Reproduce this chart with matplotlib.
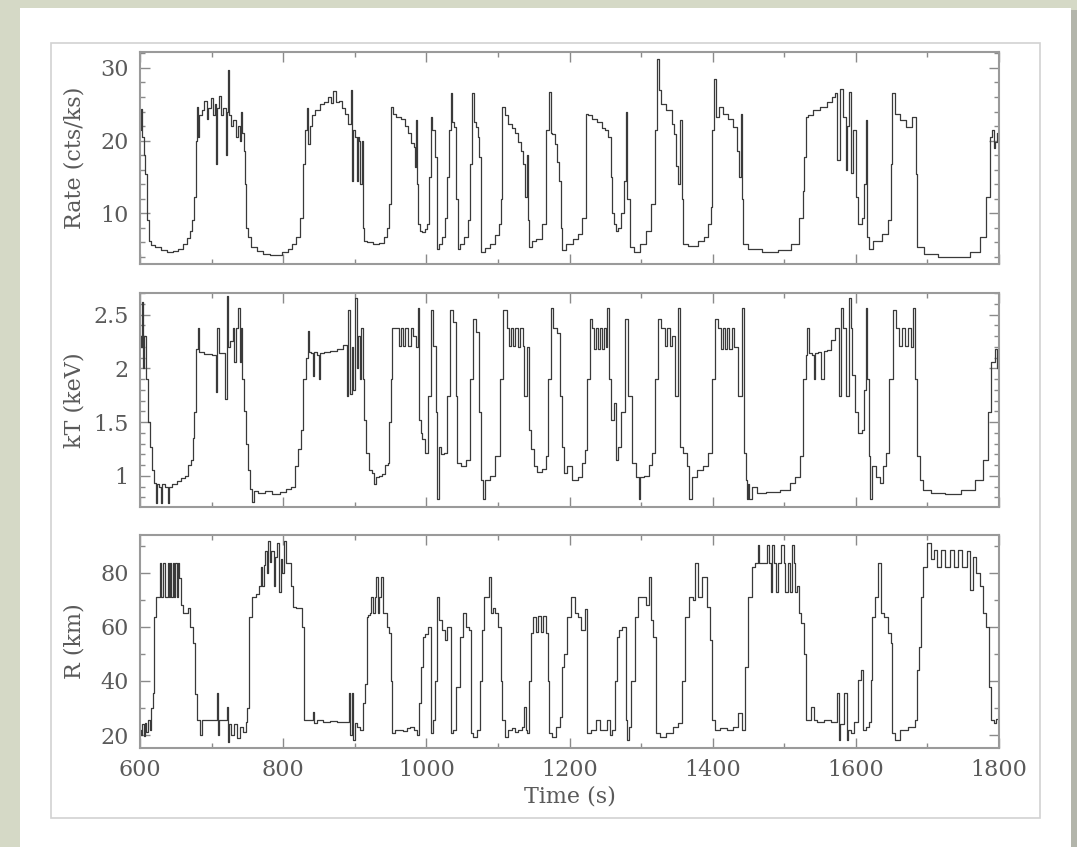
import matplotlib.pyplot as plt
from matplotlib.patches import Rectangle
from matplotlib.ticker import MultipleLocator, FuncFormatter

plt.rcParams['font.family'] = ['DejaVu Serif']

# count rate light curve
t_rate = [600, 601, 602, 604, 606, 608, 611, 614, 618, 625,
          634, 642, 650, 656, 663, 668, 671, 674, 677, 679,
          680, 682, 684, 688, 692, 694, 697, 700, 703, 706,
          707, 708, 712, 714, 718, 721, 722, 724, 726, 729,
          732, 735, 738, 740, 742, 744, 746, 747, 749, 752,
          758, 768, 777, 786, 795, 803, 810, 816, 821, 826,
          829, 832, 834, 836, 838, 842, 848, 855, 860, 865,
          868, 872, 876, 879, 884, 889, 893, 896, 897, 899,
          902, 903, 905, 907, 909, 911, 912, 914, 920, 930,
          937, 944, 947, 949, 951, 955, 960, 968, 973, 977,
          981, 984, 985, 986, 987, 990, 993, 996, 1000, 1003,
          1005, 1007, 1010, 1014, 1016, 1020, 1024, 1028, 1031, 1033,
          1035, 1038, 1040, 1043, 1045, 1050, 1056, 1060, 1063, 1065,
          1068, 1070, 1073, 1075, 1079, 1086, 1093, 1099, 1103, 1105,
          1107, 1112, 1117, 1121, 1126, 1131, 1134, 1137, 1140, 1142,
          1143, 1145, 1149, 1158, 1165, 1170, 1172, 1175, 1177, 1182,
          1184, 1187, 1189, 1191, 1200, 1210, 1215, 1221, 1224, 1228,
          1235, 1242, 1248, 1252, 1256, 1259, 1261, 1263, 1266, 1270,
          1274, 1277, 1280, 1282, 1287, 1294, 1303, 1312, 1317, 1321,
          1324, 1326, 1331, 1340, 1345, 1347, 1350, 1352, 1356, 1358,
          1359, 1373, 1385, 1391, 1396, 1398, 1401, 1403, 1405, 1412,
          1418, 1424, 1433, 1436, 1438, 1440, 1442, 1443, 1457, 1480,
          1503, 1517, 1524, 1527, 1529, 1531, 1536, 1545, 1555, 1564,
          1569, 1573, 1575, 1580, 1585, 1587, 1589, 1592, 1594, 1599,
          1601, 1606, 1610, 1613, 1615, 1617, 1620, 1629, 1643, 1647,
          1650, 1652, 1657, 1666, 1675, 1682, 1685, 1687, 1703, 1727,
          1750, 1768, 1780, 1785, 1789, 1792, 1794, 1796, 1798]
rate = [22.3, 21.5, 24.3, 20.5, 18.0, 15.4, 9.0, 6.2, 5.6, 5.3,
        4.9, 4.6, 4.8, 5.1, 5.8, 6.6, 7.6, 9.0, 12.2, 20.0,
        24.6, 20.5, 23.5, 24.2, 25.5, 23.0, 24.5, 25.8, 23.5, 25.0,
        16.8, 24.5, 26.2, 23.5, 24.5, 18.0, 24.0, 29.7, 23.5, 22.0,
        22.8, 20.5, 22.0, 20.0, 24.0, 21.0, 18.5, 14.0, 8.0, 6.7,
        5.3, 4.8, 4.4, 4.3, 4.3, 4.6, 5.1, 5.8, 6.7, 9.4,
        16.8, 21.4, 24.5, 19.5, 22.0, 23.5, 24.2, 25.0, 25.3, 26.0,
        25.2, 26.8, 25.3, 25.5, 24.5, 23.7, 22.3, 26.9, 14.5, 21.5,
        20.5, 14.5, 20.5, 20.0, 14.0, 20.0, 8.0, 6.2, 6.0, 5.7,
        5.9, 6.7, 8.0, 11.3, 24.6, 23.6, 23.3, 23.0, 22.0, 21.0,
        19.6, 19.1, 16.3, 22.8, 14.0, 8.5, 7.6, 7.4, 7.8, 8.5,
        15.0, 23.2, 21.5, 17.7, 5.1, 5.8, 6.7, 9.4, 15.0, 21.4,
        26.5, 22.5, 21.9, 12.0, 5.1, 5.8, 6.7, 9.0, 16.8, 26.5,
        22.5, 21.9, 20.5, 17.7, 4.6, 5.2, 5.8, 7.0, 8.5, 12.0,
        24.6, 23.5, 22.3, 21.8, 21.0, 19.8, 18.5, 16.8, 12.2, 18.0,
        9.0, 5.3, 6.2, 6.5, 8.5, 21.4, 26.7, 21.0, 20.9, 19.5,
        17.0, 14.5, 8.0, 4.9, 5.8, 6.5, 7.2, 9.4, 23.7, 23.5,
        23.0, 22.5, 21.8, 21.4, 20.5, 15.0, 10.0, 8.5, 7.6, 8.0,
        10.0, 14.5, 23.9, 12.0, 5.3, 4.6, 5.8, 7.6, 11.3, 21.4,
        31.3, 26.9, 25.0, 24.2, 22.3, 20.9, 16.5, 14.0, 22.8, 12.0,
        5.8, 5.5, 6.2, 6.7, 8.5, 10.8, 21.4, 28.5, 23.2, 24.6,
        23.7, 23.0, 21.9, 18.5, 15.0, 23.7, 12.0, 5.8, 5.1, 4.6,
        4.9, 5.8, 9.4, 13.0, 17.7, 23.2, 23.5, 24.2, 24.6, 25.3,
        26.0, 26.5, 17.3, 27.1, 23.2, 16.0, 22.0, 26.7, 15.5, 21.4,
        12.2, 8.5, 9.4, 14.0, 22.8, 6.7, 5.1, 6.2, 7.1, 9.0,
        16.8, 26.5, 23.7, 22.8, 21.9, 23.2, 15.4, 5.3, 4.4, 3.9,
        3.9, 4.6, 6.7, 12.2, 20.5, 21.4, 19.0, 19.8, 21.0]

# blackbody temperature
t_kt = [600, 602, 604, 605, 607, 609, 612, 615, 618, 621,
        623, 625, 628, 630, 632, 637, 640, 642, 648, 655,
        660, 665, 670, 672, 675, 677, 680, 682, 684, 695,
        705, 707, 709, 711, 718, 720, 722, 724, 728, 731,
        733, 735, 738, 740, 742, 744, 747, 749, 752, 756,
        758, 760, 770, 780, 790, 800, 808, 814, 819, 823,
        826, 830, 833, 835, 837, 840, 842, 844, 850, 851,
        853, 860, 870, 880, 888, 890, 892, 895, 897, 899,
        901, 904, 906, 908, 910, 912, 914, 918, 922, 926,
        929, 931, 936, 940, 945, 947, 949, 951, 953, 960,
        964, 966, 969, 972, 976, 980, 984, 987, 989, 991,
        993, 996, 1000, 1005, 1007, 1012, 1014, 1017, 1019, 1023,
        1026, 1031, 1035, 1040, 1042, 1045, 1052, 1059, 1063, 1068,
        1072, 1075, 1079, 1080, 1084, 1093, 1100, 1105, 1110, 1114,
        1117, 1119, 1122, 1126, 1130, 1133, 1136, 1138, 1142, 1145,
        1148, 1152, 1156, 1166, 1168, 1173, 1175, 1180, 1184, 1189,
        1191, 1194, 1200, 1208, 1215, 1219, 1224, 1226, 1231, 1233,
        1235, 1238, 1241, 1244, 1247, 1250, 1252, 1254, 1256, 1261,
        1263, 1266, 1270, 1275, 1280, 1284, 1291, 1296, 1297, 1299,
        1308, 1313, 1317, 1322, 1326, 1331, 1335, 1338, 1342, 1345,
        1350, 1354, 1356, 1361, 1366, 1368, 1373, 1382, 1391, 1396,
        1401, 1405, 1410, 1413, 1416, 1419, 1422, 1425, 1428, 1432,
        1438, 1443, 1445, 1447, 1448, 1450, 1452, 1457, 1466, 1484,
        1503, 1512, 1519, 1524, 1529, 1531, 1533, 1537, 1540, 1542,
        1545, 1549, 1554, 1556, 1564, 1568, 1575, 1578, 1580, 1584,
        1589, 1592, 1594, 1596, 1601, 1606, 1610, 1613, 1615, 1617,
        1619, 1621, 1624, 1631, 1636, 1640, 1645, 1649, 1654, 1659,
        1663, 1667, 1671, 1675, 1679, 1682, 1684, 1687, 1692, 1696,
        1713, 1736, 1759, 1773, 1782, 1787, 1792, 1796, 1798]
kt = [2.30, 2.20, 2.62, 2.00, 2.30, 1.90, 1.50, 1.27, 1.05, 0.93,
      0.75, 0.92, 0.90, 0.75, 0.92, 0.90, 0.75, 0.90, 0.92, 0.95,
      0.98, 1.00, 1.10, 1.15, 1.35, 1.59, 2.18, 2.37, 2.15, 2.13,
      2.12, 1.78, 2.37, 2.14, 2.14, 1.71, 2.67, 2.20, 2.25, 2.37,
      2.06, 2.37, 2.56, 2.06, 2.37, 1.90, 1.60, 1.30, 1.05, 0.88,
      0.76, 0.86, 0.84, 0.86, 0.83, 0.85, 0.88, 0.90, 1.09, 1.25,
      1.43, 1.90, 2.10, 2.35, 2.15, 2.14, 1.93, 2.15, 2.12, 1.90,
      2.14, 2.15, 2.16, 2.18, 2.22, 1.74, 2.54, 1.76, 2.20, 1.80,
      2.65, 2.00, 2.30, 1.90, 2.37, 1.90, 1.52, 1.21, 1.05, 1.03,
      0.92, 0.99, 1.00, 1.02, 1.10, 1.12, 1.50, 1.90, 2.37, 2.37,
      2.21, 2.37, 2.21, 2.37, 2.21, 2.37, 2.30, 2.20, 2.56, 1.52,
      1.40, 1.34, 1.21, 1.74, 2.54, 2.21, 1.59, 0.78, 1.27, 1.20,
      1.21, 1.74, 2.54, 2.43, 1.74, 1.12, 1.09, 1.15, 1.90, 2.46,
      2.34, 1.59, 0.96, 0.78, 0.96, 1.00, 1.18, 1.90, 2.54, 2.37,
      2.21, 2.37, 2.21, 2.37, 2.20, 2.37, 2.21, 1.74, 2.20, 1.43,
      1.25, 1.09, 1.04, 1.06, 1.18, 1.90, 2.56, 2.37, 2.33, 1.74,
      1.27, 1.03, 1.09, 0.96, 0.99, 1.12, 1.24, 1.90, 2.46, 2.37,
      2.18, 2.37, 2.18, 2.37, 2.18, 2.37, 2.20, 2.56, 1.90, 1.52,
      1.68, 1.15, 1.27, 1.59, 2.46, 1.74, 1.12, 0.99, 0.78, 0.99,
      1.00, 1.10, 1.21, 1.90, 2.46, 2.37, 2.21, 2.37, 2.21, 2.30,
      1.74, 2.56, 1.27, 1.21, 1.09, 0.78, 0.99, 1.05, 1.09, 1.21,
      1.90, 2.46, 2.37, 2.18, 2.37, 2.18, 2.37, 2.18, 2.37, 2.20,
      1.74, 2.56, 1.21, 0.96, 0.78, 0.92, 0.78, 0.90, 0.84, 0.85,
      0.87, 0.93, 0.99, 1.18, 1.90, 2.12, 2.37, 2.14, 2.12, 1.90,
      2.14, 2.15, 1.90, 2.16, 2.17, 2.26, 2.37, 1.74, 2.56, 2.37,
      1.74, 2.65, 2.37, 1.94, 1.59, 1.40, 1.43, 1.80, 2.56, 1.90,
      1.18, 0.78, 1.09, 0.99, 0.93, 1.09, 1.21, 1.90, 2.54, 2.37,
      2.21, 2.37, 2.21, 2.37, 2.20, 2.56, 1.90, 1.18, 0.96, 0.87,
      0.84, 0.83, 0.87, 0.96, 1.15, 1.59, 2.06, 2.18, 2.00]

# blackbody radius
t_rad = [600, 602, 604, 606, 608, 610, 613, 615, 617, 619,
         621, 624, 628, 629, 631, 634, 635, 638, 639, 641,
         643, 645, 646, 648, 650, 652, 654, 656, 659, 661,
         665, 668, 672, 675, 678, 680, 684, 685, 687, 700,
         707, 708, 709, 711, 720, 722, 723, 725, 730, 733,
         738, 742, 746, 749, 751, 754, 759, 765, 768, 770,
         772, 774, 776, 778, 780, 782, 785, 788, 790, 793,
         795, 798, 800, 803, 806, 810, 813, 815, 820, 825,
         828, 830, 840, 842, 844, 850, 860, 870, 880, 890,
         893, 895, 897, 899, 901, 906, 910, 914, 916, 917,
         920, 922, 924, 927, 929, 931, 933, 936, 938, 940,
         944, 947, 949, 951, 953, 960, 965, 970, 975, 980,
         985, 988, 991, 994, 996, 1001, 1005, 1007, 1011, 1014,
         1017, 1019, 1024, 1028, 1030, 1033, 1035, 1040, 1044, 1049,
         1054, 1058, 1061, 1063, 1068, 1073, 1077, 1079, 1081, 1085,
         1089, 1091, 1094, 1098, 1103, 1105, 1107, 1112, 1117, 1121,
         1126, 1131, 1136, 1138, 1140, 1142, 1145, 1147, 1152, 1155,
         1158, 1162, 1165, 1168, 1171, 1173, 1177, 1184, 1189, 1191,
         1194, 1198, 1205, 1210, 1214, 1219, 1224, 1226, 1234, 1240,
         1245, 1250, 1255, 1258, 1262, 1266, 1268, 1271, 1277, 1280,
         1282, 1284, 1289, 1294, 1296, 1303, 1310, 1312, 1315, 1319,
         1322, 1331, 1340, 1349, 1354, 1359, 1363, 1370, 1375, 1377,
         1382, 1389, 1394, 1398, 1401, 1405, 1415, 1425, 1432, 1440,
         1443, 1447, 1452, 1457, 1462, 1464, 1466, 1474, 1477, 1480,
         1482, 1484, 1486, 1490, 1492, 1498, 1500, 1503, 1507, 1510,
         1512, 1514, 1517, 1519, 1522, 1526, 1529, 1531, 1535, 1540,
         1542, 1550, 1560, 1570, 1576, 1577, 1579, 1587, 1588, 1590,
         1596, 1600, 1606, 1608, 1612, 1616, 1620, 1622, 1624, 1629,
         1633, 1636, 1643, 1647, 1650, 1652, 1657, 1666, 1680, 1684,
         1687, 1689, 1692, 1696, 1703, 1706, 1712, 1716, 1722, 1728,
         1734, 1740, 1746, 1752, 1758, 1762, 1766, 1771, 1775, 1780,
         1785, 1787, 1792, 1795, 1798]
radius = [22.0, 20.0, 24.0, 19.5, 24.5, 21.0, 25.6, 22.0, 30.0, 35.4,
          63.8, 71.2, 71.2, 83.6, 71.2, 83.6, 71.2, 71.2, 83.6, 71.2,
          83.6, 71.2, 83.6, 71.2, 83.6, 71.2, 83.6, 78.0, 68.0, 65.0,
          65.0, 66.9, 60.0, 54.0, 35.0, 25.6, 25.6, 20.0, 25.6, 25.6,
          25.6, 35.4, 20.0, 25.6, 25.6, 30.5, 17.5, 24.0, 20.0, 24.0,
          19.0, 23.0, 21.0, 25.0, 30.0, 63.8, 71.2, 72.0, 75.0, 82.0,
          75.0, 83.0, 88.0, 80.0, 91.6, 84.0, 88.0, 75.0, 86.0, 91.0,
          73.0, 85.0, 80.0, 91.6, 83.6, 83.6, 75.0, 67.5, 67.0, 67.0,
          60.0, 25.6, 25.6, 28.6, 24.5, 25.5, 25.0, 25.3, 25.0, 25.0,
          35.4, 20.0, 35.4, 18.0, 24.5, 23.0, 22.0, 31.7, 39.0, 63.8,
          64.5, 65.0, 71.2, 65.0, 71.2, 78.6, 65.0, 71.2, 78.6, 65.0,
          65.0, 60.0, 57.7, 40.0, 20.6, 21.8, 22.0, 21.5, 22.5, 23.0,
          22.0, 20.0, 31.7, 45.0, 56.4, 57.5, 60.0, 20.6, 25.6, 40.0,
          71.2, 62.6, 58.9, 55.0, 60.0, 60.0, 20.6, 21.8, 37.9, 56.4,
          65.0, 60.0, 58.9, 20.6, 19.4, 21.8, 40.0, 58.9, 71.2, 71.2,
          78.6, 65.0, 67.0, 65.0, 60.0, 40.0, 25.6, 19.4, 22.0, 22.5,
          21.0, 21.8, 23.0, 30.5, 22.0, 20.6, 40.0, 57.7, 63.8, 58.0,
          64.0, 58.0, 64.0, 57.7, 40.0, 20.6, 19.4, 23.1, 26.8, 45.3,
          50.0, 63.8, 71.2, 65.0, 63.8, 58.9, 66.5, 20.6, 21.8, 25.6,
          21.8, 22.0, 25.6, 20.0, 22.0, 40.0, 56.4, 58.9, 60.0, 25.6,
          18.1, 23.1, 40.0, 63.8, 71.2, 71.2, 68.0, 78.6, 62.6, 56.4,
          20.6, 19.4, 20.6, 23.1, 24.3, 40.0, 63.8, 71.2, 70.0, 83.6,
          71.2, 78.6, 67.5, 55.2, 25.6, 21.8, 22.5, 22.0, 23.0, 28.0,
          21.8, 45.3, 71.2, 82.3, 83.6, 90.4, 83.6, 83.6, 90.4, 83.6,
          73.0, 90.4, 83.6, 73.0, 83.6, 90.4, 83.6, 73.0, 83.6, 73.0,
          90.4, 83.6, 73.0, 75.0, 65.0, 61.4, 50.0, 25.6, 25.6, 30.5,
          25.6, 25.0, 25.6, 25.0, 35.4, 18.0, 24.0, 35.4, 18.0, 22.0,
          20.6, 25.0, 40.4, 44.0, 22.0, 23.1, 25.0, 40.4, 63.8, 71.2,
          83.6, 65.0, 63.8, 57.7, 54.0, 20.6, 18.0, 21.8, 23.1, 25.6,
          44.0, 52.7, 71.2, 82.3, 91.0, 85.0, 88.5, 82.3, 88.5, 82.3,
          88.5, 82.3, 88.5, 82.3, 88.0, 73.5, 86.0, 79.9, 75.0, 65.0,
          60.0, 37.9, 25.6, 24.3, 26.0]

panels = [
    (t_rate, rate, 'Rate (cts/ks)', (3.0, 32.2), [10, 20, 30], 2),
    (t_kt, kt, 'kT (keV)', (0.71, 2.70), [1, 1.5, 2, 2.5], 0.1),
    (t_rad, radius, 'R (km)', (15.2, 94.0), [20, 40, 60, 80], 10),
]

W, H = 1077, 847
fig = plt.figure(figsize=(W / 100, H / 100), dpi=100, facecolor='#d5d9c6')

# white card with a soft drop shadow and a thin inner frame
fig.patches.append(Rectangle((23 / W, 0), 1054 / W, 1 - 10 / H,
                             transform=fig.transFigure, facecolor='#b3b5ab',
                             edgecolor='none', zorder=0))
fig.patches.append(Rectangle((20 / W, 0), 1051 / W, 1 - 8 / H,
                             transform=fig.transFigure, facecolor='white',
                             edgecolor='none', zorder=0))
fig.patches.append(Rectangle((51 / W, 1 - 818 / H), 989 / W, 775 / H,
                             transform=fig.transFigure, fill=False,
                             edgecolor='#d2d2d2', lw=1.2, zorder=1))

tops = [52, 293, 535]
bottoms = [264, 507, 748]
text_col = '#5a5a5a'
fs = 16

axes = []
for (tt, vals, label, ylim, majors, minor), top, bot in zip(panels, tops, bottoms):
    ax = fig.add_axes([140 / W, 1 - bot / H, 859 / W, (bot - top) / H])
    ax.set_zorder(3)
    ax.plot(tt, vals, color='#3a3a3a', lw=0.9, drawstyle='steps-mid')
    ax.set_xlim(600, 1800)
    ax.set_ylim(*ylim)
    ax.set_yticks(majors)
    ax.yaxis.set_major_formatter(FuncFormatter(lambda v, p: '%g' % v))
    ax.yaxis.set_minor_locator(MultipleLocator(minor))
    ax.xaxis.set_major_locator(MultipleLocator(200))
    ax.xaxis.set_minor_locator(MultipleLocator(100))
    ax.tick_params(which='both', direction='in', top=True, right=True,
                   color='#8a8a8a', width=1.0, labelcolor=text_col,
                   labelsize=fs, pad=8)
    ax.tick_params(which='major', length=7)
    ax.tick_params(which='minor', length=3.5)
    for sp in ax.spines.values():
        sp.set_color('#9a9a9a')
        sp.set_linewidth(1.5)
    ax.set_ylabel(label, fontsize=fs, color=text_col)
    ax.yaxis.set_label_coords(-0.064, 0.5)
    axes.append(ax)

for ax in axes[:-1]:
    ax.tick_params(labelbottom=False)

axes[-1].set_xlabel('Time (s)', fontsize=fs, color=text_col)
axes[-1].xaxis.set_label_coords(0.5, -0.175)

fig.savefig('out.png', dpi=100, facecolor=fig.get_facecolor())
